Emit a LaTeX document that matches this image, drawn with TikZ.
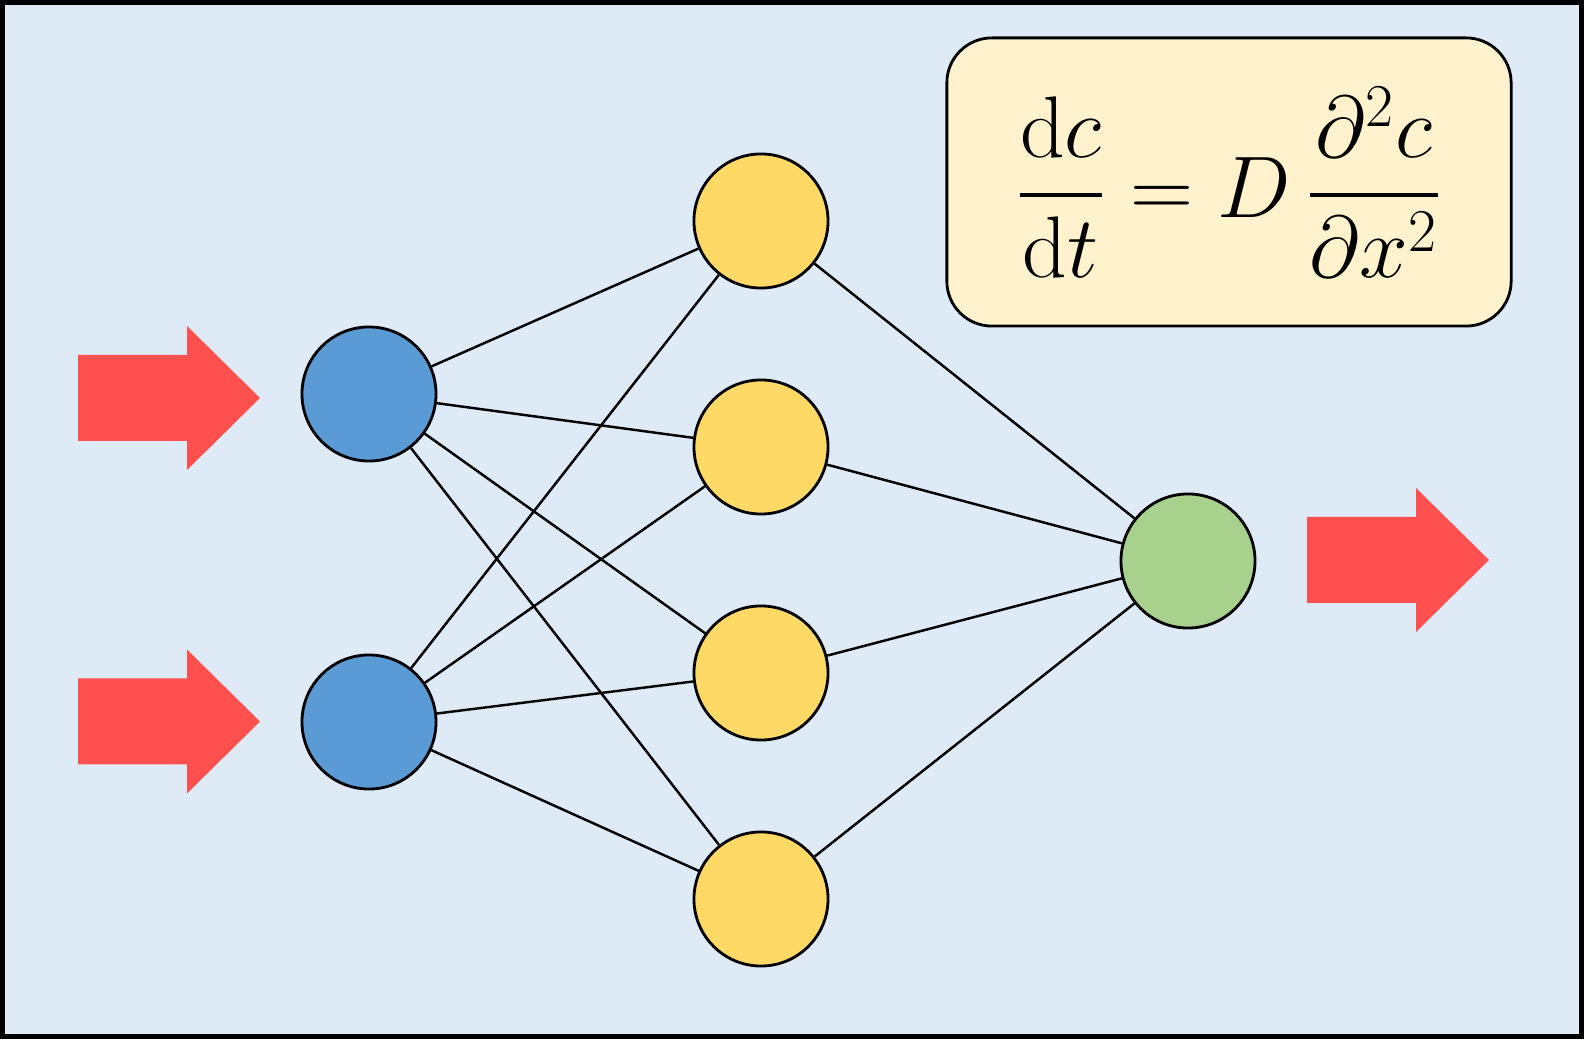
\documentclass[tikz,border=0pt]{standalone}
\usepackage{amsmath}
\definecolor{bgblue}{HTML}{DEEBF7}
\definecolor{inblue}{HTML}{5B9BD5}
\definecolor{hidyellow}{HTML}{FFD966}
\definecolor{outgreen}{HTML}{A9D18E}
\definecolor{arrowred}{HTML}{FF5050}
\definecolor{boxyellow}{HTML}{FFF2CC}
\tikzset{
  neuron/.style={circle,draw=black,line width=0.8pt,minimum size=1.34cm,inner sep=0pt},
  link/.style={line width=0.7pt},
}
\begin{document}
\begin{tikzpicture}[x=0.01cm,y=0.01cm]
\useasboundingbox (0,0) rectangle (1584,1039);
\draw[fill=bgblue,line width=1.4pt] (2.5,2.5) rectangle (1581.5,1036.5);
% big red arrows
\foreach \x/\y in {78/641, 78/317.5, 1307/479}
  \fill[arrowred] (\x,\y+43) -- ++(109,0) -- ++(0,29) -- (\x+182,\y) -- (\x+109,\y-72) -- ++(0,29) -- (\x,\y-43) -- cycle;
% equation
\node[draw=black,line width=0.8pt,fill=boxyellow,rounded corners=0.45cm,minimum width=5.64cm,minimum height=2.88cm] (eq) at (1229,857)
  {\fontsize{23}{28}\selectfont$\displaystyle \frac{\mathrm{d}c}{\mathrm{d}t} = D\,\frac{\partial^2 c}{\partial x^2}$};
% neurons
\node[neuron,fill=inblue] (i1) at (369,645) {};
\node[neuron,fill=inblue] (i2) at (369,317) {};
\node[neuron,fill=hidyellow] (h1) at (761,818) {};
\node[neuron,fill=hidyellow] (h2) at (761,592) {};
\node[neuron,fill=hidyellow] (h3) at (761,366) {};
\node[neuron,fill=hidyellow] (h4) at (761,140) {};
\node[neuron,fill=outgreen] (o) at (1188,478) {};
% links
\foreach \i in {1,2}
  \foreach \h in {1,...,4}
    \draw[link] (i\i) -- (h\h);
\foreach \h in {1,...,4}
  \draw[link] (h\h) -- (o);
\end{tikzpicture}
\end{document}
